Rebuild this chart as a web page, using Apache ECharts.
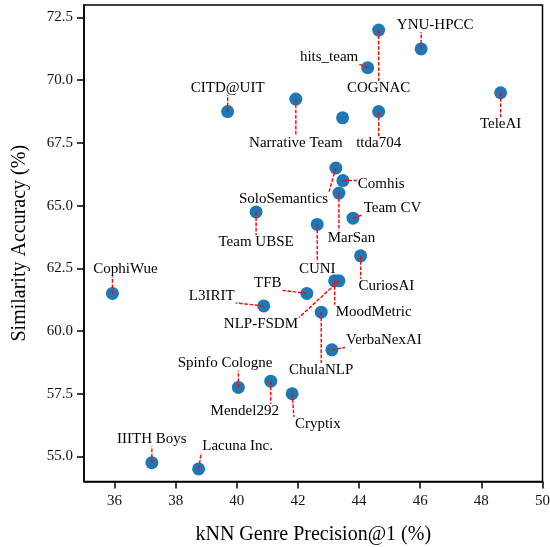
<!DOCTYPE html>
<html>
<head>
<meta charset="utf-8">
<script src="https://cdn.jsdelivr.net/npm/echarts@6/dist/echarts.min.js"></script>
<style>
html,body{margin:0;padding:0;background:#fff;}
#chart{width:550px;height:547px;}
</style>
</head>
<body>
<div id="chart"></div>
<script>
// ---- data ----
const teams = ["COGNAC","YNU-HPCC","hits_team","CITD@UIT","Narrative Team","","ttda704","TeleAI",
  "SoloSemantics","Comhis","MarSan","Team CV","Team UBSE","CUNI","CuriosAI","CophiWue",
  "MoodMetric","NLP-FSDM","TFB","L3IRIT","ChulaNLP","VerbaNexAI","Spinfo Cologne","Mendel292",
  "Cryptix","IIITH Boys","Lacuna Inc."];
const knnPrecision = [44.64,46.03,44.28,39.70,41.93,43.46,44.64,48.63,
  43.24,43.47,43.34,43.80,40.63,42.63,44.05,35.93,
  43.20,43.34,42.29,40.88,42.76,43.11,40.05,41.11,
  41.81,37.22,38.75];
const similarityAcc = [72.00,71.25,70.50,68.75,69.25,68.50,68.75,69.50,
  66.50,66.00,65.50,64.50,64.75,64.25,63.00,61.50,
  62.00,62.00,61.50,61.00,60.75,59.25,57.75,58.00,
  57.50,54.75,54.50];
const xTicks = [36,38,40,42,44,46,48,50];
const yTicks = [55.0,57.5,60.0,62.5,65.0,67.5,70.0,72.5];

// label placement (pixel offset of label centre from its point)
const labelOffsets = [[0,58],[14,-24],[-38.6,-10.4],[0,-23.7],[0,44.3],[0,0],[0,31.6],[0,31.3],
  [-52.4,30.7],[38.3,3.3],[12.6,44.6],[39.5,-10.3],[0,30],[0,44.3],[25.7,30],[13,-24],
  [39,31],[-78,43.6],[-39,-10],[-52,-10],[0,57.7],[52,-9.3],[-13.3,-24],[-26,29.7],
  [25.7,30.3],[0,-23.4],[39,-23]];

const FONT = '"Liberation Serif", "DejaVu Serif", serif';
const LABEL_SIZE = 15;

const points = knnPrecision.map((x,i)=>[x, similarityAcc[i], i]);

const mctx = document.createElement('canvas').getContext('2d');
mctx.font = LABEL_SIZE + 'px "Liberation Serif"';

const chart = echarts.init(document.getElementById('chart'), null, {renderer:'canvas'});
chart.setOption({
  animation:false,
  backgroundColor:'#fff',
  grid:{left:84,right:7.5,top:5,bottom:65.5,show:true,borderColor:'#000',borderWidth:1.5,
    backgroundColor:'transparent',containLabel:false,outerBoundsMode:'none'},
  xAxis:{
    type:'value',min:35,max:50,
    name:'kNN Genre Precision@1 (%)',nameLocation:'middle',nameGap:43,
    nameTextStyle:{fontFamily:FONT,fontSize:20,color:'#000'},
    axisLine:{show:true,onZero:false,lineStyle:{color:'#000',width:1.5}},
    axisTick:{show:true,length:7,lineStyle:{color:'#000',width:1.5},customValues:xTicks},
    axisLabel:{fontFamily:FONT,fontSize:15,color:'#111',margin:12,customValues:xTicks,
      formatter:v=>String(v)},
    splitLine:{show:false}
  },
  yAxis:{
    type:'value',min:54,max:73,
    name:'Similarity Accuracy (%)',nameLocation:'middle',nameGap:54,nameRotate:90,
    nameTextStyle:{fontFamily:FONT,fontSize:20,color:'#000'},
    axisLine:{show:true,onZero:false,lineStyle:{color:'#000',width:1.5}},
    axisTick:{show:true,length:7,lineStyle:{color:'#000',width:1.5},customValues:yTicks},
    axisLabel:{fontFamily:FONT,fontSize:15,color:'#111',margin:11,customValues:yTicks,
      formatter:v=>v.toFixed(1)},
    splitLine:{show:false}
  },
  series:[
    {
      type:'scatter',
      data:points,
      symbolSize:13,
      itemStyle:{color:'#1f77b4',opacity:1},
      z:2
    },
    {
      type:'custom',
      data:points,
      z:3,
      silent:true,
      renderItem:function(params, api){
        const i = api.value(2);
        const name = teams[i];
        if(!name) return null;
        const p = api.coord([api.value(0), api.value(1)]);
        const off = labelOffsets[i];
        const cx = p[0]+off[0], cy = p[1]+off[1];
        const w = mctx.measureText(name).width;
        const hw = w/2+1, hh = 7;
        const ex = Math.min(Math.max(p[0], cx-hw), cx+hw);
        const ey = Math.min(Math.max(p[1], cy-hh), cy+hh);
        return {
          type:'group',
          children:[
            {type:'line',shape:{x1:p[0],y1:p[1],x2:ex,y2:ey},
             style:{stroke:'#ff0000',lineWidth:1.4,lineDash:[3.7,1.6]}},
            {type:'text',style:{text:name,x:cx,y:cy,align:'center',verticalAlign:'middle',
             fontFamily:'"Liberation Serif"',fontSize:LABEL_SIZE,fill:'#000'}}
          ]
        };
      }
    }
  ]
});
</script>
</body>
</html>
